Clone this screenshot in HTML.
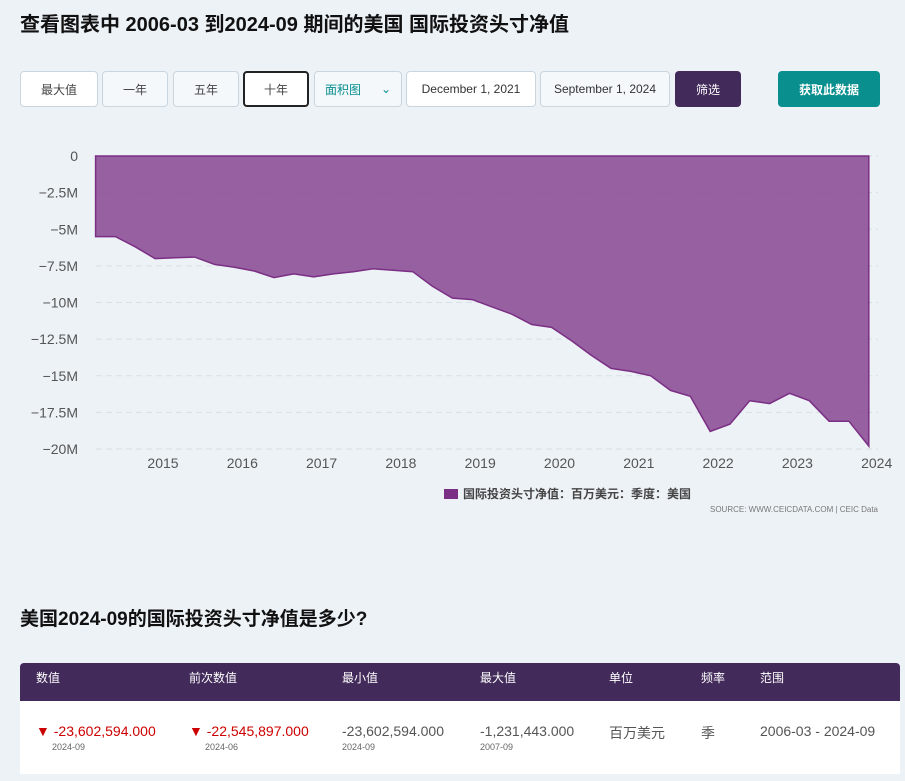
<!DOCTYPE html>
<html><head><meta charset="utf-8">
<style>
body{margin:0;width:905px;height:781px;background:#edf2f7;font-family:"Liberation Sans","Noto Sans CJK SC",sans-serif;overflow:hidden;position:relative}
.abs{position:absolute}
h1{position:absolute;left:20px;top:8px;margin:0;font-size:20px;font-weight:bold;color:#111}
.btn{position:absolute;top:71px;height:36px;border:1px solid #c9d6e0;background:#f4f8fb;border-radius:4px;font-size:12px;color:#444;display:flex;align-items:center;justify-content:center;box-sizing:border-box}
h2{position:absolute;left:20px;top:604px;margin:0;font-size:19px;font-weight:bold;color:#111}
.th{position:absolute;top:669px;color:#fff;font-size:12px}
.td{position:absolute;top:723px;font-size:14px;color:#555}
.red{color:#c00}
.sub{position:absolute;top:742px;font-size:9px;color:#666}
</style></head><body>
<h1>查看图表中 2006-03 到2024-09 期间的美国 国际投资头寸净值</h1>
<div class="btn" style="left:20px;width:78px;background:#fff">最大值</div>
<div class="btn" style="left:102px;width:66px">一年</div>
<div class="btn" style="left:173px;width:66px">五年</div>
<div class="btn" style="left:243px;width:66px;border:2px solid #222;background:#fff">十年</div>
<div class="btn" style="left:314px;width:88px;color:#0a8f8f;justify-content:space-between;padding:0 10px"><span>面积图</span><span>⌄</span></div>
<div class="btn" style="left:406px;width:130px;background:#fff;color:#333">December 1, 2021</div>
<div class="btn" style="left:540px;width:130px;color:#333">September 1, 2024</div>
<div class="btn" style="left:675px;width:66px;background:#422a5a;color:#fff;border:none">筛选</div>
<div class="btn" style="left:778px;width:102px;background:#0a8f8f;color:#fff;border:none;font-weight:bold">获取此数据</div>

<svg class="abs" style="left:0;top:130px" width="905" height="400">
<g id="grid"></g><path id="area"></path><g id="xt"></g>
<rect x="444" y="359" width="14" height="10" fill="#7b2f84"/>
<text x="463" y="368" font-size="12" font-weight="bold" fill="#444">国际投资头寸净值：百万美元：季度：美国</text>
<text x="878" y="382" font-size="8" fill="#777" text-anchor="end">SOURCE: WWW.CEICDATA.COM | CEIC Data</text>
</svg>

<h2>美国2024-09的国际投资头寸净值是多少?</h2>
<div class="abs" style="left:20px;top:663px;width:880px;height:38px;background:#422a5a;border-radius:4px 4px 0 0"></div>
<div class="abs" style="left:20px;top:701px;width:880px;height:73px;background:#fff"></div>
<div class="th" style="left:36px">数值</div><div class="th" style="left:189px">前次数值</div><div class="th" style="left:342px">最小值</div><div class="th" style="left:480px">最大值</div><div class="th" style="left:609px">单位</div><div class="th" style="left:701px">频率</div><div class="th" style="left:760px">范围</div>
<div class="td red" style="left:36px">▼ -23,602,594.000</div><div class="sub" style="left:52px">2024-09</div>
<div class="td red" style="left:189px">▼ -22,545,897.000</div><div class="sub" style="left:205px">2024-06</div>
<div class="td" style="left:342px">-23,602,594.000</div><div class="sub" style="left:342px">2024-09</div>
<div class="td" style="left:480px">-1,231,443.000</div><div class="sub" style="left:480px">2007-09</div>
<div class="td" style="left:609px">百万美元</div>
<div class="td" style="left:701px">季</div>
<div class="td" style="left:760px">2006-03 - 2024-09</div>
<script>
const values=[-5.5,-5.5,-6.2,-7.0,-6.95,-6.9,-7.4,-7.6,-7.85,-8.3,-8.05,-8.25,-8.05,-7.9,-7.7,-7.8,-7.9,-8.9,-9.7,-9.8,-10.3,-10.8,-11.5,-11.7,-12.6,-13.6,-14.5,-14.7,-15.0,-16.0,-16.4,-18.8,-18.3,-16.7,-16.9,-16.2,-16.7,-18.1,-18.1,-19.8];
const startYear=2014.15;
const yTicks=[0,-2.5,-5,-7.5,-10,-12.5,-15,-17.5,-20];
const yLabels=["0","−2.5M","−5M","−7.5M","−10M","−12.5M","−15M","−17.5M","−20M"];
const xTicks=[2015,2016,2017,2018,2019,2020,2021,2022,2023,2024];
const X=t=>163+(t-2015)*79.3, Y=v=>26-v*14.65;
const ns="http://www.w3.org/2000/svg";
const g=document.getElementById('grid'),xt=document.getElementById('xt');
yTicks.forEach((v,i)=>{
 const l=document.createElementNS(ns,'line');l.setAttribute('x1',96);l.setAttribute('x2',878);l.setAttribute('y1',Y(v));l.setAttribute('y2',Y(v));l.setAttribute('stroke','#d8dfe6');l.setAttribute('stroke-dasharray','6,4');
 
 g.appendChild(l);
 const t=document.createElementNS(ns,'text');t.setAttribute('x',78);t.setAttribute('y',Y(v)+5);t.setAttribute('text-anchor','end');t.setAttribute('font-size','14');t.setAttribute('fill','#555');t.textContent=yLabels[i];
 
 g.appendChild(t);
});
xTicks.forEach(y=>{
 const t=document.createElementNS(ns,'text');t.setAttribute('x',X(y));t.setAttribute('y',338);t.setAttribute('text-anchor','middle');t.setAttribute('font-size','14');t.setAttribute('fill','#555');t.textContent=y;
 
 xt.appendChild(t);
});
let d='M'+X(startYear)+','+Y(0);
values.forEach((v,i)=>{d+=' L'+X(startYear+i*0.25).toFixed(1)+','+Y(v).toFixed(1);});
d+=' L'+X(startYear+(values.length-1)*0.25).toFixed(1)+','+Y(0)+' Z';
const a=document.getElementById('area');a.setAttribute('d',d);a.setAttribute('fill','#8e5499');a.setAttribute('fill-opacity','0.92');a.setAttribute('stroke','#7b2f84');a.setAttribute('stroke-width','1.5');
</script>
</body></html>
